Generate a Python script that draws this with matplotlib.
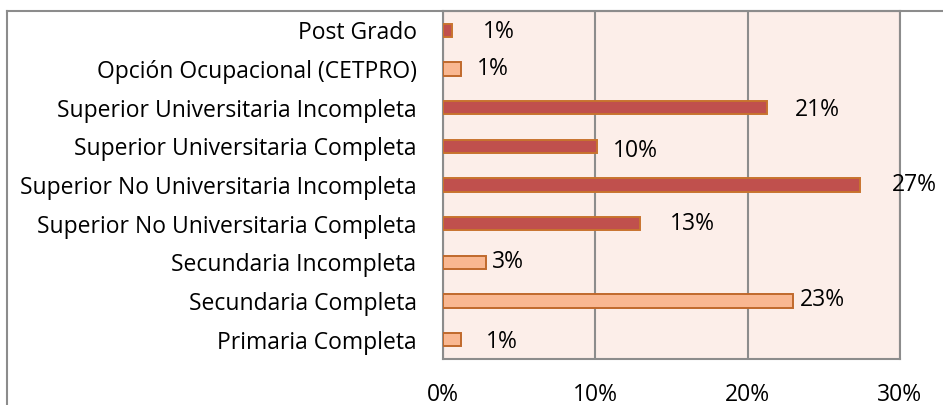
import matplotlib
matplotlib.use("Agg")
import matplotlib.pyplot as plt
from matplotlib.lines import Line2D

# ---- data (top to bottom as shown) ----
categories = [
    "Post Grado",
    "Opción Ocupacional (CETPRO)",
    "Superior Universitaria Incompleta",
    "Superior Universitaria Completa",
    "Superior No Universitaria Incompleta",
    "Superior No Universitaria Completa",
    "Secundaria Incompleta",
    "Secundaria Completa",
    "Primaria Completa",
]
values = [0.6, 1.2, 21.3, 10.1, 27.4, 12.9, 2.8, 23.0, 1.2]
value_labels = ["1%", "1%", "21%", "10%", "27%", "13%", "3%", "23%", "1%"]
group = ["dark", "light", "dark", "dark", "dark", "dark", "light", "light", "light"]
xticks = [0, 10, 20, 30]
xtick_labels = ["0%", "10%", "20%", "30%"]

# ---- styling ----
fills = {"dark": "#C0504D", "light": "#F9B791"}
edges = {"dark": "#C8732E", "light": "#C0692C"}
label_dx_px = [31, 16, 27, 16, 31, 30, 6, 7, 25]
label_dy_px = [-2, 0, -2, -5, 0, 0, 0, 1, -2]
FS = 16.5

W, H = 943, 405
fig = plt.figure(figsize=(W / 100, H / 100), dpi=100)
plt.rcParams["font.family"] = ["Open Sans", "DejaVu Sans"]

ax = fig.add_axes([443 / W, 1 - 359 / H, (900 - 443) / W, (359 - 11) / H])
ax.set_facecolor("#FCEEE9")

n = len(categories)
ypos = list(range(n - 1, -1, -1))
for y, v, g in zip(ypos, values, group):
    ax.barh(y, v, height=0.34, color=fills[g], edgecolor=edges[g], linewidth=1.4, zorder=3)

ax.set_ylim(-0.5, n - 0.5)
ax.set_xlim(0, 30)
ax.set_xticks(xticks)
ax.set_xticklabels(xtick_labels)
ax.set_yticks(ypos)
ax.set_yticklabels(categories)
ax.tick_params(axis="both", length=0, labelsize=FS, colors="#000000")
ax.tick_params(axis="y", pad=19)
ax.tick_params(axis="x", pad=17)
ax.xaxis.grid(True, color="#8C8C8C", linewidth=1.5, zorder=1)
ax.set_axisbelow(True)
for s in ax.spines.values():
    s.set_color("#8C8C8C")
    s.set_linewidth(1.5)

for y, v, lab, dx, dy in zip(ypos, values, value_labels, label_dx_px, label_dy_px):
    ax.annotate(lab, xy=(v, y), xytext=(dx * 0.72, dy * 0.72), textcoords="offset points",
                ha="left", va="center", fontsize=FS, color="#000000", zorder=5,
                annotation_clip=False)

# outer chart frame (top and left edges visible)
fig.add_artist(Line2D([7 / W, 1], [1 - 11 / H, 1 - 11 / H], color="#8C8C8C", linewidth=1.5))
fig.add_artist(Line2D([7 / W, 7 / W], [0, 1 - 11 / H], color="#8C8C8C", linewidth=1.5))

fig.savefig("out.png", dpi=100)
